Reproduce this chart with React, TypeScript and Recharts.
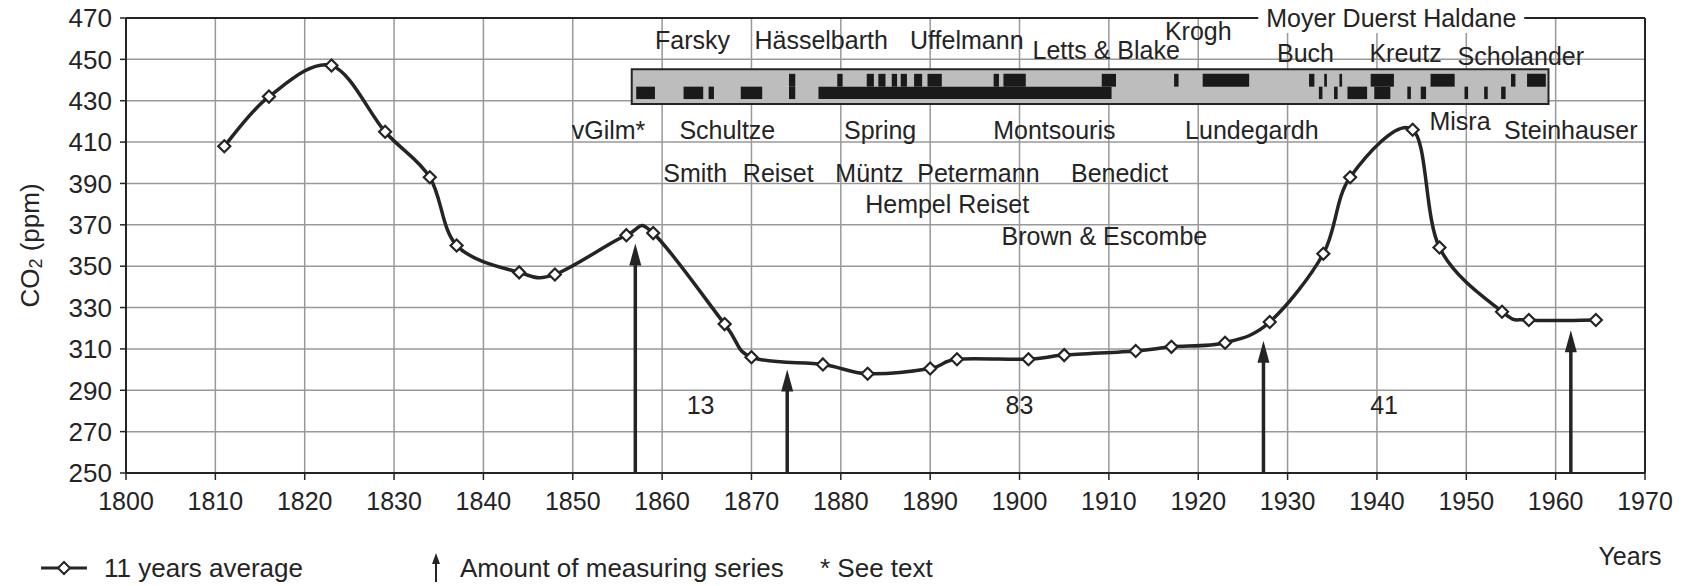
import React from 'react';
import {
  LineChart,
  Line,
  XAxis,
  YAxis,
  CartesianGrid,
  ReferenceLine,
  ReferenceArea,
  ReferenceDot,
} from 'recharts';

const FONT = '"Liberation Sans", Arial, Helvetica, sans-serif';
const INK = '#242424';

// ---- data ----
const yearTicks = [1800, 1810, 1820, 1830, 1840, 1850, 1860, 1870, 1880, 1890, 1900, 1910, 1920, 1930, 1940, 1950, 1960, 1970];
const ppmTicks = [250, 270, 290, 310, 330, 350, 370, 390, 410, 430, 450, 470];

// 11 years average
const avgYears = [1811, 1816, 1823, 1829, 1834, 1837, 1844, 1848, 1856, 1859, 1867, 1870, 1878, 1883, 1890, 1893, 1901, 1905, 1913, 1917, 1923, 1928, 1934, 1937, 1944, 1947, 1954, 1957, 1964.5];
const avgPpm = [408, 432, 447, 415, 393, 360, 347, 346, 365, 366, 322, 306, 302.5, 298, 300.5, 305, 305, 307, 309, 311, 313, 323, 356, 393, 416, 359, 328, 324, 324];

// arrows: amount of measuring series
const arrowYears = [1857, 1874, 1927.3, 1961.7];
const arrowTips = [361, 300, 314, 319];
const countLabels = ['13', '83', '41'];
const countYears = [1864.3, 1900, 1940.8];
const countPpm = [283, 283, 283];

// author labels
const authorNames = ['Farsky', 'Hässelbarth', 'Uffelmann', 'Letts & Blake', 'Krogh', 'Buch', 'Kreutz', 'Scholander', 'vGilm*', 'Schultze', 'Spring', 'Montsouris', 'Lundegardh', 'Misra', 'Steinhauser', 'Smith', 'Reiset', 'Müntz', 'Petermann', 'Benedict', 'Hempel Reiset', 'Brown & Escombe'];
const authorYears = [1863.4, 1877.8, 1894.1, 1909.7, 1920, 1932, 1943.2, 1956.1, 1854, 1867.3, 1884.4, 1903.9, 1926, 1949.3, 1961.7, 1863.7, 1873, 1883.2, 1895.4, 1911.2, 1891.9, 1909.5];
const authorPpm = [459.4, 459.4, 459.4, 454.5, 463.5, 453, 453, 451.5, 416, 416, 416, 416, 416, 420, 416, 395, 395, 395, 395, 395, 380, 364.5];
const headerName = 'Moyer Duerst Haldane';
const headerYear = 1941.6;

// coverage of measurement series (years)
const coverageSpan = [1856.6, 1959.2];
const coveragePpm = [428.4, 445.2];
const upperRowPpm = [436.8, 443];
const lowerRowPpm = [430.8, 436.8];
const upperBars = [
  [1874.2, 1874.9], [1879.6, 1880.2], [1882.9, 1883.7], [1884.2, 1885], [1885.7, 1886.3], [1886.7, 1887.4],
  [1888.2, 1889.1], [1889.7, 1891.3], [1897.1, 1897.7], [1898.2, 1900.7], [1909.2, 1910.8], [1917.3, 1917.8],
  [1920.5, 1925.7], [1932.4, 1933.0], [1934.1, 1934.4], [1935.8, 1936.1], [1939.3, 1941.9], [1946.0, 1948.7],
  [1955.0, 1955.5], [1956.8, 1958.9],
];
const lowerBars = [
  [1857.1, 1859.2], [1862.4, 1864.6], [1865.2, 1865.8], [1868.8, 1871.2], [1874.2, 1874.9], [1877.5, 1910.3],
  [1933.5, 1933.9], [1935.2, 1935.6], [1936.7, 1938.9], [1939.7, 1941.5], [1943.4, 1943.8], [1944.9, 1945.5],
  [1949.8, 1950.2], [1952.0, 1952.4], [1953.9, 1954.4],
];

const lineData = avgYears.map((y, i) => ({ year: y, ppm: avgPpm[i] }));

// Excel-like smoothing (Catmull-Rom through points)
function smoothCurve(context: any) {
  let pts: number[][] = [];
  return {
    areaStart() {},
    areaEnd() {},
    lineStart() {
      pts = [];
    },
    point(x: number, y: number) {
      pts.push([+x, +y]);
    },
    lineEnd() {
      const n = pts.length;
      if (!n) return;
      context.moveTo(pts[0][0], pts[0][1]);
      for (let i = 0; i < n - 1; i++) {
        const p0 = pts[Math.max(i - 1, 0)];
        const p1 = pts[i];
        const p2 = pts[i + 1];
        const p3 = pts[Math.min(i + 2, n - 1)];
        context.bezierCurveTo(
          p1[0] + (p2[0] - p0[0]) / 6,
          p1[1] + (p2[1] - p0[1]) / 6,
          p2[0] - (p3[0] - p1[0]) / 6,
          p2[1] - (p3[1] - p1[1]) / 6,
          p2[0],
          p2[1]
        );
      }
    },
  };
}

const Diamond = (props: any) => {
  const { cx, cy, index } = props;
  if (cx == null || cy == null) return <g key={`d-${index}`} />;
  const r = 6;
  return (
    <polygon
      key={`d-${index}`}
      points={`${cx},${cy - r} ${cx + r},${cy} ${cx},${cy + r} ${cx - r},${cy}`}
      fill="#fff"
      stroke={INK}
      strokeWidth={2.2}
    />
  );
};

const ArrowShape = (p: any) => {
  const { x1, y1, y2 } = p;
  const top = Math.min(y1, y2);
  const bottom = Math.max(y1, y2);
  const headH = 22;
  const headW = 6;
  return (
    <g>
      <line x1={x1} y1={bottom} x2={x1} y2={top + headH - 2} stroke={INK} strokeWidth={3.5} />
      <polygon points={`${x1},${top} ${x1 + headW},${top + headH} ${x1 - headW},${top + headH}`} fill={INK} />
    </g>
  );
};

const textShape = (label: string, size: number) => (p: any) => (
  <text
    x={p.cx}
    y={p.cy}
    textAnchor="middle"
    dominantBaseline="central"
    fontSize={size}
    fontFamily={FONT}
    fill={INK}
  >
    {label}
  </text>
);

const headerShape = (p: any) => (
  <g>
    <rect x={p.cx - 133} y={p.cy - 15} width={266} height={30} fill="#fff" />
    <text x={p.cx} y={p.cy} textAnchor="middle" dominantBaseline="central" fontSize={25} fontFamily={FONT} fill={INK}>
      {headerName}
    </text>
  </g>
);

const Legend = () => (
  <svg width={1685} height={586} style={{ position: 'absolute', left: 0, top: 0, pointerEvents: 'none' }}>
    <g fontFamily={FONT} fontSize={26} fill={INK}>
      <line x1={41} y1={568} x2={87} y2={568} stroke={INK} strokeWidth={3.2} />
      <polygon points="64,562 70,568 64,574 58,568" fill="#fff" stroke={INK} strokeWidth={2} />
      <text x={104} y={568} dominantBaseline="central">11 years average</text>
      <line x1={436} y1={582} x2={436} y2={562} stroke={INK} strokeWidth={2} />
      <polygon points="436,553 440,564 432,564" fill={INK} />
      <text x={460} y={568} dominantBaseline="central">Amount of measuring series</text>
      <text x={820} y={568} dominantBaseline="central">* See text</text>
    </g>
  </svg>
);

export default function App() {
  return (
    <div style={{ position: 'absolute', left: 0, top: 0, width: 1685, height: 586, background: '#fff' }}>
      <LineChart width={1685} height={586} data={lineData} margin={{ top: 18, right: 40, bottom: 73, left: 46 }}>
        <CartesianGrid stroke="#999999" strokeWidth={1.5} />
        <XAxis
          type="number"
          dataKey="year"
          domain={[1800, 1970]}
          ticks={yearTicks}
          height={40}
          axisLine={{ stroke: INK, strokeWidth: 2 }}
          tickLine={{ stroke: INK, strokeWidth: 1.5 }}
          tickSize={7}
          tickMargin={12}
          tick={{ fill: INK, fontSize: 25, fontFamily: FONT }}
          interval={0}
          label={{
            content: (lp: any) => {
              const vb = lp.viewBox || {};
              return (
                <text x={(vb.x || 0) + (vb.width || 0) - 15} y={556} textAnchor="middle" dominantBaseline="central" fontSize={25} fontFamily={FONT} fill={INK}>
                  Years
                </text>
              );
            },
          }}
        />
        <YAxis
          type="number"
          domain={[250, 470]}
          ticks={ppmTicks}
          width={80}
          axisLine={{ stroke: INK, strokeWidth: 2 }}
          tickLine={{ stroke: INK, strokeWidth: 1.5 }}
          tickSize={6}
          tickMargin={8}
          tick={{ fill: INK, fontSize: 26, fontFamily: FONT }}
          interval={0}
          label={{
            content: (lp: any) => {
              const vb = lp.viewBox || {};
              const cx = 30;
              const cy = (vb.y || 0) + (vb.height || 0) / 2;
              return (
                <text transform={`translate(${cx},${cy}) rotate(-90)`} textAnchor="middle" dominantBaseline="central" fontSize={26} fontFamily={FONT} fill={INK}>
                  CO<tspan fontSize={18} dy={6}>2</tspan>
                  <tspan dy={-6}> (ppm)</tspan>
                </text>
              );
            },
          }}
        />
        {/* frame */}
        <ReferenceLine y={470} stroke={INK} strokeWidth={2} />
        <ReferenceLine x={1970} stroke={INK} strokeWidth={2} />

        {/* coverage box */}
        <ReferenceArea
          x1={coverageSpan[0]}
          x2={coverageSpan[1]}
          y1={coveragePpm[0]}
          y2={coveragePpm[1]}
          fill="#bdbdbd"
          fillOpacity={1}
          stroke={INK}
          strokeWidth={2}
        />
        {upperBars.map((b, i) => (
          <ReferenceArea key={`u${i}`} x1={b[0]} x2={b[1]} y1={upperRowPpm[0]} y2={upperRowPpm[1]} fill="#1a1a1a" fillOpacity={1} />
        ))}
        {lowerBars.map((b, i) => (
          <ReferenceArea key={`l${i}`} x1={b[0]} x2={b[1]} y1={lowerRowPpm[0]} y2={lowerRowPpm[1]} fill="#1a1a1a" fillOpacity={1} />
        ))}

        {/* arrows */}
        {arrowYears.map((yr, i) => (
          <ReferenceLine
            key={`a${i}`}
            segment={[
              { x: yr, y: 250 },
              { x: yr, y: arrowTips[i] },
            ]}
            shape={ArrowShape}
          />
        ))}

        <Line
          dataKey="ppm"
          type={smoothCurve as any}
          stroke={INK}
          strokeWidth={3.5}
          dot={Diamond}
          activeDot={false}
          isAnimationActive={false}
        />

        {countLabels.map((c, i) => (
          <ReferenceDot key={`c${i}`} x={countYears[i]} y={countPpm[i]} r={0} shape={textShape(c, 25)} />
        ))}
        {authorNames.map((n, i) => (
          <ReferenceDot key={`n${i}`} x={authorYears[i]} y={authorPpm[i]} r={0} shape={textShape(n, 25)} />
        ))}
        <ReferenceDot x={headerYear} y={470} r={0} shape={headerShape} />
      </LineChart>
      <Legend />
    </div>
  );
}
